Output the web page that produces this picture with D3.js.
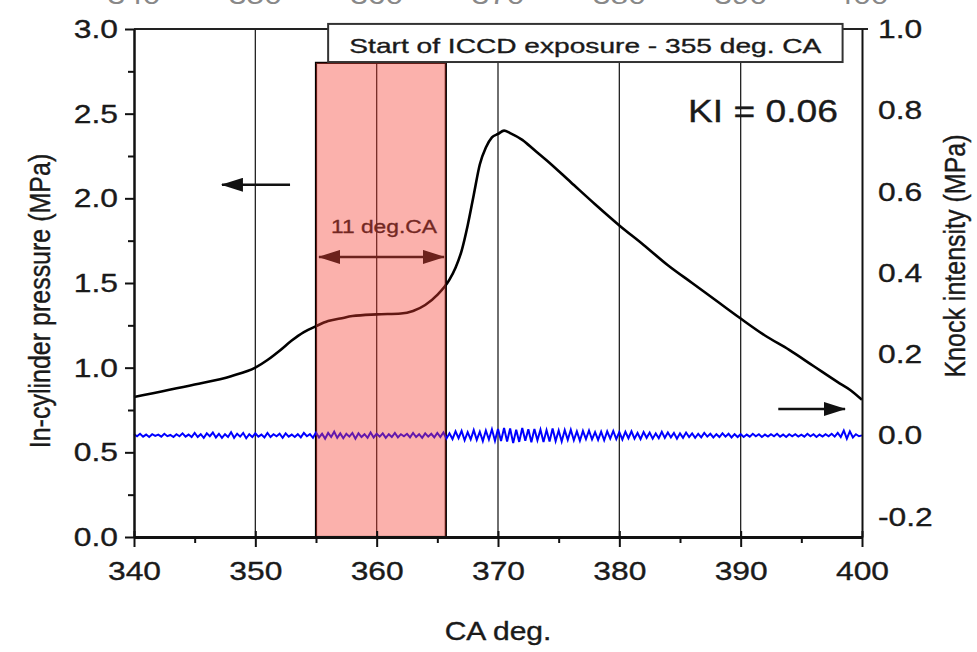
<!DOCTYPE html>
<html><head><meta charset="utf-8">
<script src="https://cdn.jsdelivr.net/npm/d3@7"></script>
<style>body{margin:0;background:#fff} text{font-family:"Liberation Sans",Arial,sans-serif;fill:#1a1a1a;stroke:#1a1a1a;stroke-width:0.35px}</style>
</head><body><svg id="c" width="977" height="652"></svg>
<script>
// ---------- data ----------
const caTicks=[340,350,360,370,380,390,400];
const caMinor=[345,355,365,375,385,395];
const pressureTicks=[0,0.5,1.0,1.5,2.0,2.5,3.0];
const pressureMinor=[0.25,0.75,1.25,1.75,2.25,2.75];
const knockTicks=[-0.2,0,0.2,0.4,0.6,0.8,1.0];
const gridCA=[350,360,370,380,390];
const pressureCA=[340,345,348,350,351,352,353,354,355,356,357,358,360,362,363,364,365,366,366.5,367,367.5,368,368.5,369,369.5,370,370.5,371,372,373,374,376,378,380,382,384,386,388,390,392,394,396,398,399,400];
const pressureMPa=[0.827,0.90,0.95,1.00,1.045,1.10,1.16,1.21,1.245,1.275,1.29,1.305,1.315,1.32,1.335,1.37,1.43,1.52,1.59,1.69,1.84,2.02,2.20,2.30,2.36,2.38,2.40,2.385,2.345,2.285,2.225,2.095,1.965,1.84,1.725,1.605,1.50,1.395,1.29,1.19,1.105,1.01,0.915,0.87,0.81];
const knockStart=340, knockStep=0.25;
const knockMPa=[
0.003,-0.002,0.004,-0.003,0.002,-0.004,0.003,-0.001,0.002,-0.003,0.004,-0.002,0.001,-0.004,0.003,-0.002,0.005,-0.003,0.002,-0.004,
0.006,-0.004,0.003,-0.006,0.005,-0.002,0.007,-0.005,0.004,-0.006,0.003,-0.004,0.008,-0.006,0.004,-0.003,0.006,-0.007,0.003,-0.004,
0.005,-0.003,0.002,-0.005,0.006,-0.004,0.003,-0.002,0.004,-0.006,0.005,-0.003,0.002,-0.004,0.003,-0.005,0.006,-0.002,0.003,-0.006,
0.007,-0.005,0.004,-0.008,0.006,-0.004,0.009,-0.006,0.005,-0.007,0.004,-0.003,0.006,-0.008,0.005,-0.004,0.003,-0.006,0.007,-0.005,
0.004,-0.003,0.005,-0.006,0.003,-0.004,0.006,-0.005,0.003,-0.002,0.004,-0.005,0.006,-0.004,0.003,-0.006,0.005,-0.003,0.004,-0.005,
0.006,-0.004,0.007,-0.008,0.005,-0.009,0.010,-0.007,0.011,-0.012,0.008,-0.010,0.013,-0.011,0.009,-0.014,0.012,-0.010,0.015,-0.013,
0.016,-0.014,0.018,-0.015,0.017,-0.019,0.014,-0.016,0.018,-0.013,0.015,-0.017,0.016,-0.012,0.014,-0.016,0.013,-0.015,0.017,-0.014,
0.012,-0.015,0.013,-0.011,0.014,-0.012,0.010,-0.013,0.011,-0.009,0.012,-0.010,0.008,-0.011,0.009,-0.012,0.010,-0.008,0.011,-0.009,
0.008,-0.010,0.009,-0.007,0.010,-0.008,0.006,-0.009,0.008,-0.006,0.007,-0.008,0.005,-0.007,0.009,-0.006,0.007,-0.005,0.006,-0.008,
0.005,-0.006,0.007,-0.004,0.005,-0.006,0.004,-0.005,0.006,-0.003,0.004,-0.005,0.003,-0.004,0.005,-0.003,0.004,-0.005,0.003,-0.004,
0.003,-0.004,0.002,-0.003,0.004,-0.002,0.003,-0.004,0.002,-0.003,0.003,-0.002,0.004,-0.003,0.002,-0.004,0.003,-0.002,0.003,-0.003,
0.002,-0.003,0.004,-0.002,0.003,-0.004,0.002,-0.003,0.003,-0.002,0.004,-0.003,0.006,-0.004,0.012,-0.008,0.010,-0.005,0.003,-0.002,
0.000];
const exposureCA=[355,365.7];
const legendText="Start of ICCD exposure - 355 deg. CA";
const kiText="KI = 0.06";
const spanText="11 deg.CA";

// ---------- scales ----------
const svg=d3.select("#c");
const x=d3.scaleLinear().domain([340,400]).range([134,862]);
const yP=d3.scaleLinear().domain([0,3]).range([537,29]);
const yK=d3.scaleLinear().domain([-0.25,1.0]).range([537,29]);
const SX=1.2;
function stretch(sel){
  sel.each(function(){
    const t=d3.select(this);
    const tx=+t.attr("x")||0, ty=+t.attr("y")||0;
    t.attr("x",null).attr("y",null).attr("transform",`translate(${tx},${ty}) scale(${SX},1)`);
  });
}
function label(str,px,py,size,anchor){
  return svg.append("text").attr("transform",`translate(${px},${py}) scale(${SX},1)`)
    .attr("text-anchor",anchor||"middle").attr("font-size",size).text(str);
}

// cut-off labels of the panel above
svg.append("g").selectAll("text").data(caTicks).join("text")
  .attr("transform",d=>`translate(${x(d)},4) scale(${SX},1)`)
  .attr("text-anchor","middle").attr("font-size",26.5).style("fill","#888").style("stroke","none").text(d=>d);

// grid lines
svg.append("g").selectAll("line").data(gridCA).join("line")
  .attr("x1",d=>x(d)).attr("x2",d=>x(d)).attr("y1",yP(3)).attr("y2",yP(0))
  .attr("stroke","#222").attr("stroke-width",1.3);

// frame top
svg.append("line").attr("x1",x(340)).attr("x2",x(400)+6).attr("y1",yP(3)).attr("y2",yP(3))
  .attr("stroke","#222").attr("stroke-width",2);

// exposure rectangle outline (under overlay)
svg.append("rect").attr("x",x(exposureCA[0])).attr("y",yP(2.80))
  .attr("width",x(exposureCA[1])-x(exposureCA[0])).attr("height",yP(0)-yP(2.80))
  .attr("fill","none").attr("stroke","#000").attr("stroke-width",2.2);

// series
svg.append("path").datum(knockMPa)
  .attr("d",d3.line().x((d,i)=>x(knockStart+i*knockStep)).y(d=>yK(d)))
  .attr("fill","none").attr("stroke","#0000ff").attr("stroke-width",2);
svg.append("path").datum(pressureCA.map((c,i)=>[c,pressureMPa[i]]))
  .attr("d",d3.line().x(d=>x(d[0])).y(d=>yP(d[1])).curve(d3.curveMonotoneX))
  .attr("fill","none").attr("stroke","#000").attr("stroke-width",2.6);

// arrow marker
const defs=svg.append("defs");
defs.append("marker").attr("id","ah").attr("viewBox","0 -7 22 14").attr("refX",21).attr("refY",0)
  .attr("markerWidth",22).attr("markerHeight",14).attr("markerUnits","userSpaceOnUse")
  .attr("orient","auto-start-reverse")
  .append("path").attr("d","M0,-7L22,0L0,7Z").attr("fill","#111");
function arrow(c1,c2,p,both){
  const l=svg.append("line").attr("x1",x(c1)).attr("x2",x(c2)).attr("y1",yP(p)).attr("y2",yP(p))
    .attr("stroke","#111").attr("stroke-width",2.5).attr("marker-end","url(#ah)");
  if(both) l.attr("marker-start","url(#ah)");
}
arrow(352.86,347.25,2.08,false);
arrow(393.1,398.6,0.756,false);
arrow(355.25,365.55,1.654,true);
label(spanText,x(360.6),yP(1.795),19,"middle");

// overlay fill
svg.append("rect").attr("x",x(exposureCA[0])).attr("y",yP(2.80))
  .attr("width",x(exposureCA[1])-x(exposureCA[0])).attr("height",yP(0)-yP(2.80))
  .attr("fill","rgb(245,60,48)").attr("fill-opacity",0.4);

// legend box
svg.append("rect").attr("x",x(356.0)).attr("y",yP(3.03))
  .attr("width",x(398.4)-x(356.0)).attr("height",yP(2.805)-yP(3.03))
  .attr("fill","#fff").attr("stroke","#333").attr("stroke-width",2);
svg.append("text").attr("x",(x(356.0)+x(398.4))/2).attr("y",yP(2.858)).attr("text-anchor","middle")
  .attr("font-size",21).attr("textLength",472).attr("lengthAdjust","spacingAndGlyphs").text(legendText);

// KI label
label(kiText,x(385.66),yP(2.45),31,"start");

// axes
const bottom=svg.append("g").attr("transform",`translate(0,${yP(0)})`)
  .call(d3.axisBottom(x).tickValues(caTicks).tickSize(10).tickSizeOuter(0).tickFormat(d=>d));
bottom.select(".domain").attr("stroke","#111").attr("stroke-width",3);
bottom.selectAll(".tick line").attr("stroke","#111").attr("stroke-width",2);
bottom.selectAll("text").attr("y",24).attr("font-size",26.5).attr("font-family",null).attr("fill",null).call(stretch);
const bMinor=svg.append("g").attr("transform",`translate(0,${yP(0)})`)
  .call(d3.axisBottom(x).tickValues(caMinor).tickSize(6).tickFormat(""));
bMinor.select(".domain").remove();
bMinor.selectAll(".tick line").attr("stroke","#111").attr("stroke-width",2);
const bIn=svg.append("g").attr("transform",`translate(0,${yP(0)})`)
  .call(d3.axisBottom(x).tickValues(caTicks).tickSize(-6).tickFormat(""));
bIn.select(".domain").remove();
bIn.selectAll(".tick line").attr("stroke","#111").attr("stroke-width",2);

const left=svg.append("g").attr("transform",`translate(${x(340)},0)`)
  .call(d3.axisLeft(yP).tickValues(pressureTicks).tickSize(9).tickPadding(7).tickSizeOuter(0).tickFormat(d=>d.toFixed(1)));
left.select(".domain").attr("stroke","#111").attr("stroke-width",2.5);
left.selectAll(".tick line").attr("stroke","#111").attr("stroke-width",2);
left.selectAll("text").attr("font-size",26.5).attr("font-family",null).attr("fill",null).call(stretch);
const lMinor=svg.append("g").attr("transform",`translate(${x(340)},0)`)
  .call(d3.axisLeft(yP).tickValues(pressureMinor).tickSize(6).tickFormat(""));
lMinor.select(".domain").remove();
lMinor.selectAll(".tick line").attr("stroke","#111").attr("stroke-width",2);

const right=svg.append("g").attr("transform",`translate(${x(400)},0)`)
  .call(d3.axisRight(yK).tickValues(knockTicks).tickSize(0).tickPadding(16).tickSizeOuter(0).tickFormat(d=>d.toFixed(1)));
right.select(".domain").attr("stroke","#111").attr("stroke-width",2);
right.selectAll("text").attr("font-size",26.5).attr("font-family",null).attr("fill",null).call(stretch);

// axis titles
svg.append("text").attr("transform",`translate(40,301) scale(${SX},1) rotate(-90)`)
  .attr("text-anchor","middle").attr("dominant-baseline","central").attr("font-size",25).text("In-cylinder pressure (MPa)");
svg.append("text").attr("transform",`translate(955,256) scale(${SX},1) rotate(-90)`)
  .attr("text-anchor","middle").attr("dominant-baseline","central").attr("font-size",25).text("Knock intensity (MPa)");
label("CA deg.",498,640,25,"middle");
</script></body></html>
